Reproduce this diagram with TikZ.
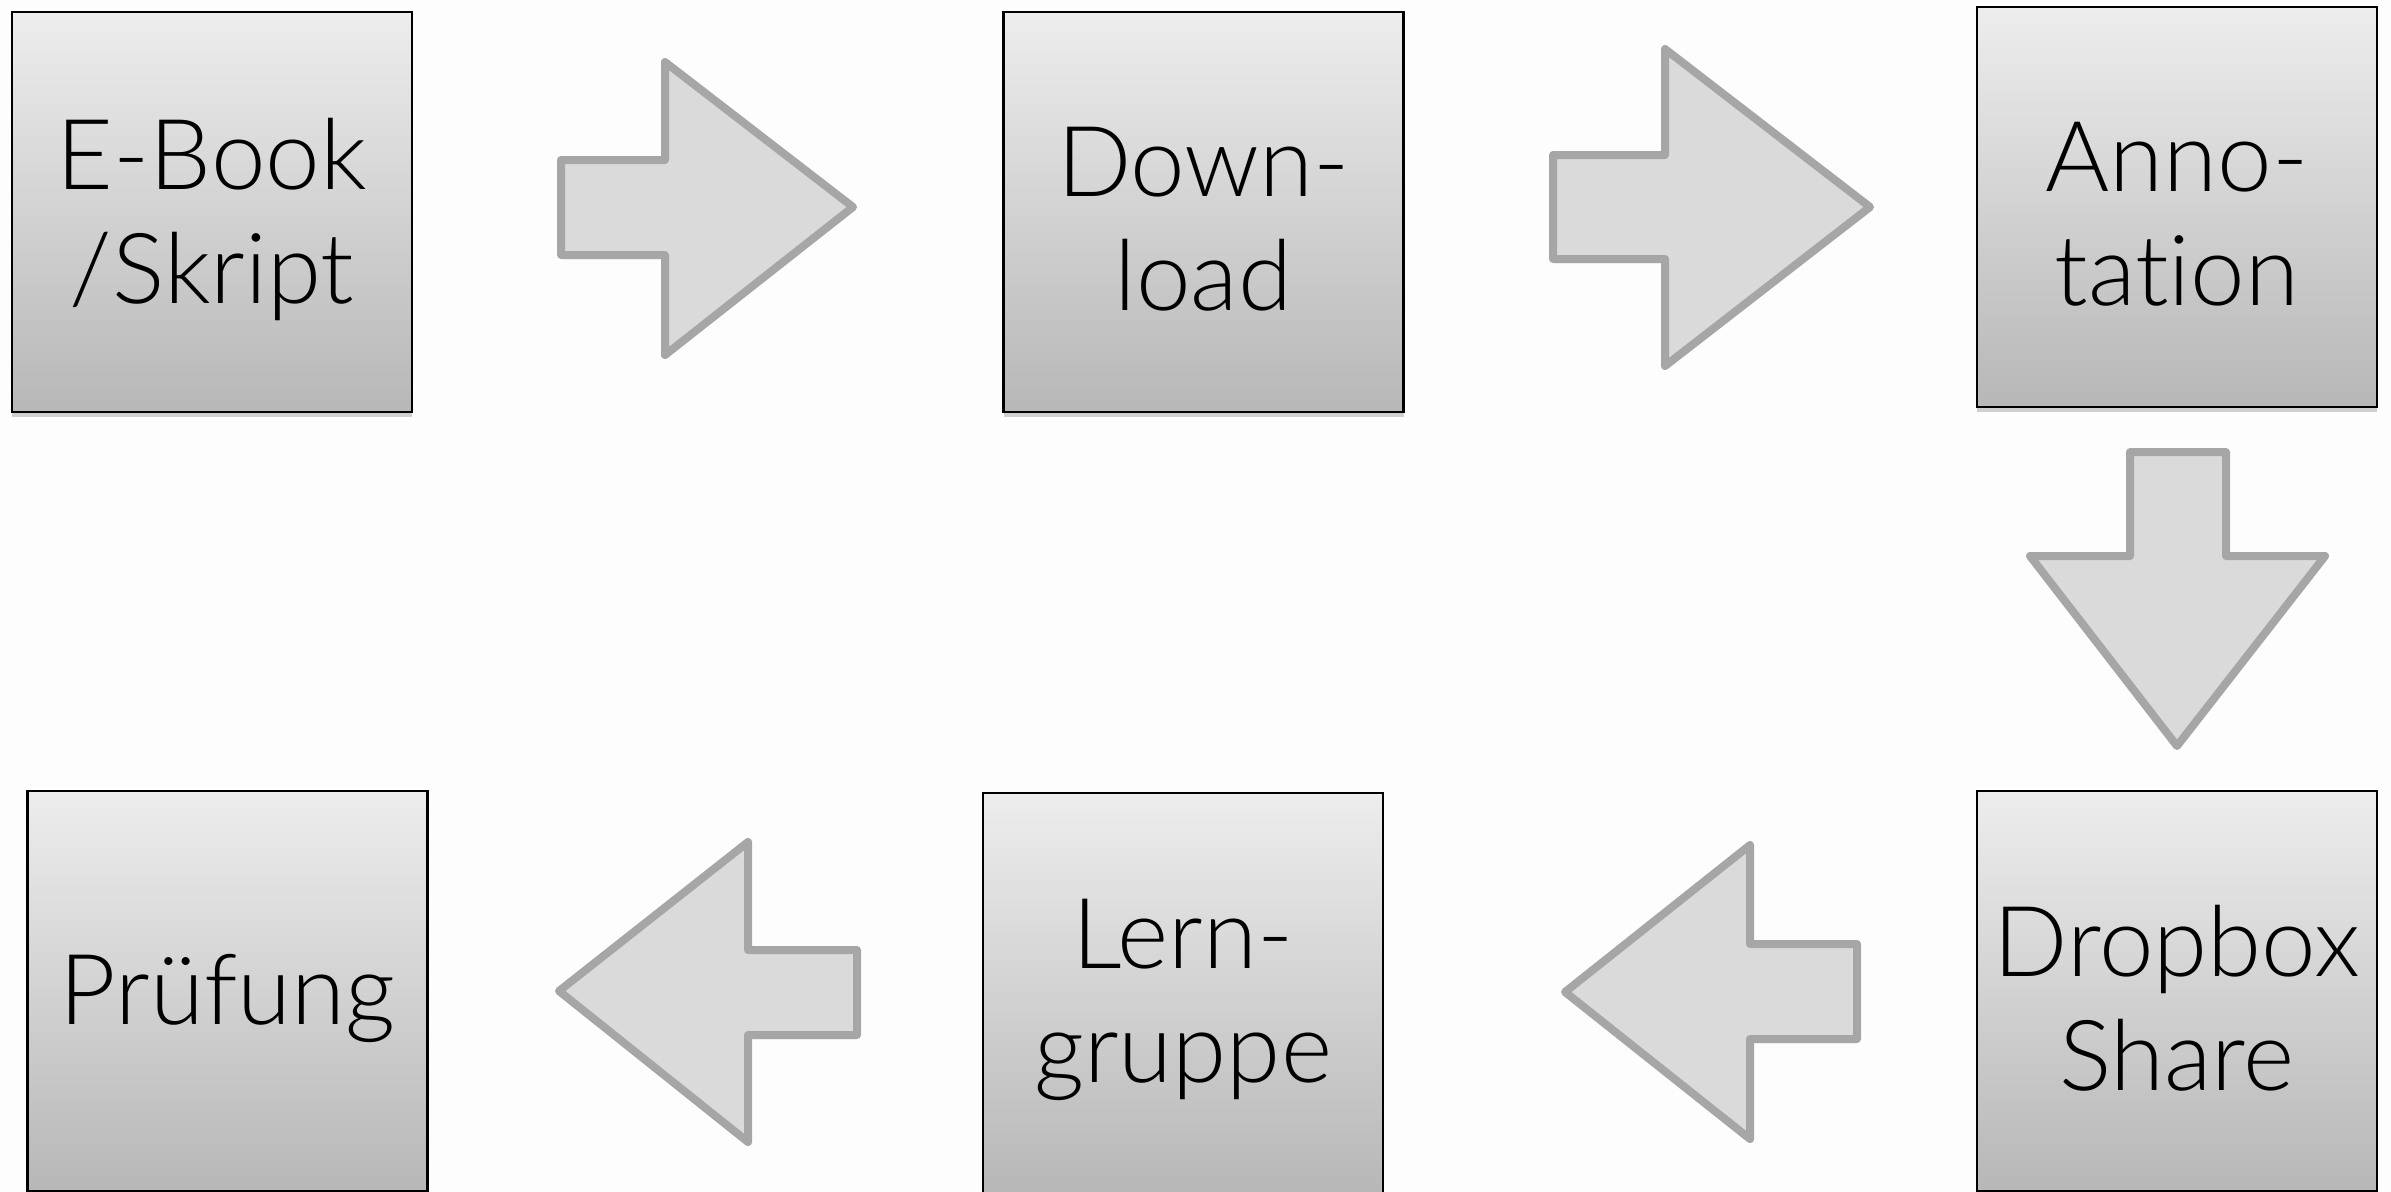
\documentclass[tikz,border=0pt]{standalone}
\usepackage{fontspec}
\IfFontExistsTF{Lato Light}{\setmainfont{Lato Light}[Ligatures={NoCommon,NoRare}]}{\setmainfont{Liberation Sans}}
\usetikzlibrary{shadows}
\definecolor{arrfill}{HTML}{DADADA}
\definecolor{arrline}{HTML}{A6A6A6}
\definecolor{boxtop}{HTML}{EDEDED}
\definecolor{boxbot}{HTML}{B7B7B7}
\definecolor{bg}{HTML}{FDFDFD}
\tikzset{
  stepbox/.style={draw=black, line width=1.1pt, minimum width=200pt, minimum height=200pt,
    inner sep=0pt, top color=boxtop, bottom color=boxbot,
    drop shadow={shadow xshift=0pt, shadow yshift=-2.5pt, opacity=0.18, fill=black}},
  steptext/.style={align=center, yshift=-3.5pt, inner sep=0pt, font=\fontsize{49}{57}\selectfont},
  blockarrow/.style={fill=arrfill, draw=arrline, line width=4pt, line join=round,
    drop shadow={shadow xshift=0pt, shadow yshift=-2pt, opacity=0.12, fill=black}}
}
\begin{document}
\begin{tikzpicture}[x=0.5pt,y=-0.5pt]
\fill[bg] (0,0) rectangle (2391,1191);
\useasboundingbox (0,0) rectangle (2391,1191);
\begin{scope}
\clip (0,0) rectangle (2391,1191);
\node[stepbox, label={[steptext]center:E-Book\\/Skript}] (ebook) at (212,212) {};
\node[stepbox, label={[steptext]center:Down-\\load}] (download) at (1203.5,212) {};
\node[stepbox, label={[steptext]center:Anno-\\tation}] (annotation) at (2177,207) {};
\node[stepbox, label={[steptext]center:Dropbox\\Share}] (dropbox) at (2177,991) {};
\node[stepbox, label={[steptext]center:Lern-\\gruppe}] (lerngruppe) at (1183,993) {};
\node[stepbox, label={[steptext]center:Prüfung}] (pruefung) at (227.5,991) {};
% block arrows
\draw[blockarrow] (561,160) -- (665,160) -- (665,62) -- (853,207) -- (665,355) -- (665,255) -- (561,255) -- cycle;
\draw[blockarrow] (1553,155) -- (1665,155) -- (1665,49) -- (1870,207) -- (1665,366) -- (1665,259) -- (1553,259) -- cycle;
\draw[blockarrow] (2130,452) -- (2226,452) -- (2226,556) -- (2325,556) -- (2177,746) -- (2030,556) -- (2130,556) -- cycle;
\draw[blockarrow] (1857,944) -- (1750,944) -- (1750,845) -- (1565,992) -- (1750,1139) -- (1750,1039) -- (1857,1039) -- cycle;
\draw[blockarrow] (857,950) -- (748,950) -- (748,842) -- (559,991) -- (748,1142) -- (748,1035) -- (857,1035) -- cycle;
\end{scope}
\end{tikzpicture}
\end{document}
